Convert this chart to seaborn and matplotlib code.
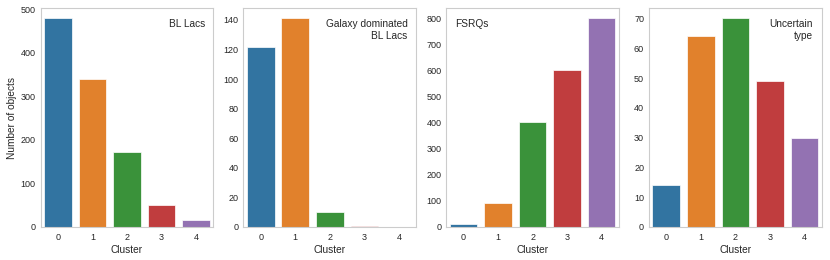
# number of objects per cluster, for each blazar class
import matplotlib
matplotlib.use('Agg')
import matplotlib.pyplot as plt
import seaborn as sns

clusters = [0, 1, 2, 3, 4]
bl_lacs = [479, 339, 173, 50, 17]
galaxy_bl_lacs = [122, 141, 10, 1, 0]
fsrqs = [12, 92, 403, 602, 801]
uncertain = [14, 64, 70, 49, 30]

titles = ['BL Lacs', 'Galaxy dominated\nBL Lacs', 'FSRQs', 'Uncertain\ntype']
counts = [bl_lacs, galaxy_bl_lacs, fsrqs, uncertain]

sns.set_style('whitegrid', {'axes.grid': False})
plt.rcParams['font.family'] = ['Liberation Sans', 'DejaVu Sans']

fig, axes = plt.subplots(1, 4, figsize=(8.3, 2.6), dpi=100)
plt.subplots_adjust(left=0.049, right=0.990, top=0.969, bottom=0.127, wspace=0.174)

for i, ax in enumerate(axes):
    sns.barplot(x=clusters, y=counts[i], hue=clusters, palette='tab10',
                legend=False, edgecolor='white', linewidth=0.5, ax=ax)
    ax.set_xlabel('Cluster', fontsize=7.3, labelpad=2.5)
    ax.tick_params(axis='both', labelsize=6.5, length=0)
    ax.tick_params(axis='x', pad=4)
    ax.tick_params(axis='y', pad=3.5)
    # class name in the corner of each panel
    if titles[i] == 'FSRQs':
        ax.text(0.05, 0.95, titles[i], transform=ax.transAxes,
                ha='left', va='top', fontsize=7.3)
    else:
        ax.text(0.95, 0.95, titles[i], transform=ax.transAxes,
                ha='right', va='top', fontsize=7.3, multialignment='right')

axes[0].set_ylabel('Number of objects', fontsize=7.3, labelpad=3)

plt.savefig('out.png')
